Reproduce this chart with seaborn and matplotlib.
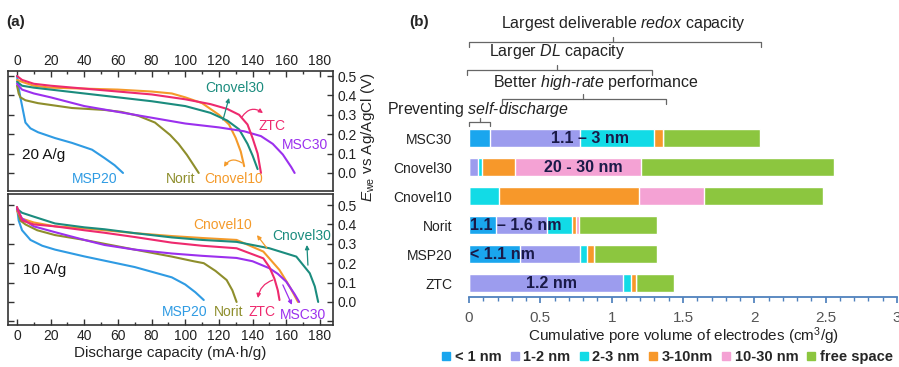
import pandas as pd
import seaborn as sns
import matplotlib.pyplot as plt
from matplotlib.ticker import MultipleLocator, FixedLocator, FuncFormatter
from matplotlib.lines import Line2D

sns.set_theme(style="white")
plt.rcParams['font.family'] = ['Liberation Sans', 'DejaVu Sans']
plt.rcParams['mathtext.fontset'] = 'custom'
plt.rcParams['mathtext.rm'] = 'Liberation Sans'
plt.rcParams['mathtext.it'] = 'Liberation Sans:italic'
plt.rcParams['mathtext.bf'] = 'Liberation Sans:bold'

# ---- (a) discharge curves: (capacity mA h/g, E V)
# 20 A/g
msp20_20 = [(0, 0.50), (1, 0.44), (2, 0.39), (5, 0.26), (8, 0.23), (12.5, 0.21), (22.6, 0.18),
            (32.7, 0.155), (44.6, 0.12), (52, 0.077), (58, 0.04), (63, 0.0)]
norit_20 = [(0, 0.45), (1, 0.41), (2, 0.39), (5, 0.375), (12.5, 0.36), (32.7, 0.335), (52, 0.325),
            (62, 0.315), (72, 0.295), (82, 0.26), (91, 0.196), (96, 0.15), (101, 0.093),
            (105, 0.04), (108, 0.0)]
cnovel10_20 = [(0, 0.48), (3, 0.47), (10, 0.45), (20, 0.44), (40, 0.435), (60, 0.43), (80, 0.42),
               (92, 0.41), (100, 0.39), (110, 0.36), (120, 0.30), (126, 0.25), (130, 0.18),
               (133, 0.11), (135, 0.035)]
cnovel30_20 = [(0, 0.47), (3, 0.45), (10, 0.44), (20, 0.43), (40, 0.41), (60, 0.39), (80, 0.37),
               (100, 0.345), (115, 0.31), (125, 0.27), (132, 0.225), (137, 0.15), (140, 0.09),
               (143, 0.02)]
ztc_20 = [(0, 0.50), (3, 0.48), (10, 0.46), (20, 0.45), (40, 0.435), (60, 0.42), (80, 0.405),
          (100, 0.38), (115, 0.355), (125, 0.33), (132, 0.30), (137, 0.25), (140, 0.18),
          (143, 0.10), (145, 0.0)]
msc30_20 = [(0, 0.46), (3, 0.43), (10, 0.41), (20, 0.39), (40, 0.345), (60, 0.315), (80, 0.285),
            (100, 0.255), (120, 0.235), (135, 0.215), (145, 0.19), (152, 0.15), (158, 0.095),
            (163, 0.03), (165, 0.0)]
# 10 A/g
msp20_10 = [(0, 0.49), (1, 0.42), (3, 0.37), (8, 0.32), (15, 0.29), (22.6, 0.27), (40, 0.235),
            (52, 0.213), (70, 0.18), (92, 0.127), (100, 0.09), (106, 0.05), (111, 0.01)]
norit_10 = [(0, 0.48), (2, 0.42), (5, 0.40), (12, 0.37), (22.6, 0.345), (40, 0.32), (52, 0.30),
            (70, 0.27), (92, 0.234), (105, 0.21), (111, 0.20), (118, 0.16), (124.6, 0.113),
            (128, 0.06), (130.5, 0.0)]
cnovel10_10 = [(0, 0.47), (3, 0.43), (10, 0.41), (22.6, 0.39), (40, 0.38), (52, 0.37), (70, 0.355),
               (92, 0.34), (110, 0.33), (130.5, 0.32), (146.4, 0.26), (156, 0.165), (162, 0.08),
               (167, 0.0)]
cnovel30_10 = [(0, 0.48), (3, 0.46), (10, 0.44), (22.6, 0.405), (40, 0.385), (52, 0.375),
               (70, 0.355), (92, 0.333), (110, 0.32), (130.5, 0.31), (150, 0.277), (166, 0.234),
               (174, 0.148), (177, 0.08), (179, 0.0)]
ztc_10 = [(0, 0.49), (3, 0.42), (10, 0.40), (22.6, 0.39), (40, 0.37), (52, 0.357), (70, 0.335),
          (92, 0.306), (110, 0.29), (130.5, 0.277), (146.4, 0.225), (150, 0.18), (153, 0.12),
          (155, 0.06), (156, 0.01)]
msc30_10 = [(0, 0.48), (3, 0.43), (10, 0.39), (22.6, 0.36), (40, 0.32), (52, 0.294), (70, 0.27),
            (92, 0.25), (110, 0.238), (130.5, 0.227), (140, 0.21), (150, 0.174), (155, 0.145),
            (160, 0.105), (165, 0.04), (167.7, 0.0)]

line_colors = {"MSP20": "#2f9be3", "Norit": "#8e8e2c", "Cnovel10": "#f49a2a",
               "Cnovel30": "#1b8c7e", "ZTC": "#ee2a6e", "MSC30": "#9b30ee"}

# ---- (b) pore volume (cm3/g) per pore-size range
categories = ["MSC30", "Cnovel30", "Cnovel10", "Norit", "MSP20", "ZTC"]
pore_lt1 = [0.15, 0.0, 0.0, 0.19, 0.36, 0.0]
pore_1_2 = [0.63, 0.065, 0.0, 0.355, 0.415, 1.08]
pore_2_3 = [0.52, 0.028, 0.21, 0.175, 0.055, 0.055]
pore_3_10 = [0.06, 0.23, 0.98, 0.03, 0.045, 0.035]
pore_10_30 = [0.0, 0.88, 0.455, 0.02, 0.0, 0.0]
free_space = [0.68, 1.355, 0.835, 0.55, 0.445, 0.27]

seg_names = ["< 1 nm", "1-2 nm", "2-3 nm", "3-10nm", "10-30 nm", "free space"]
seg_colors = ["#1aa6ee", "#9c9cee", "#12dbe6", "#f7982a", "#f4a2d4", "#8cc63f"]


def to_frame(curves):
    rows = []
    for name, pts in curves.items():
        for c, v in pts:
            rows.append((name, c, v))
    return pd.DataFrame(rows, columns=["sample", "cap", "V"])


df20 = to_frame({"MSP20": msp20_20, "Norit": norit_20, "Cnovel10": cnovel10_20,
                 "Cnovel30": cnovel30_20, "MSC30": msc30_20, "ZTC": ztc_20})
df10 = to_frame({"MSP20": msp20_10, "Norit": norit_10, "Cnovel10": cnovel10_10,
                 "Cnovel30": cnovel30_10, "MSC30": msc30_10, "ZTC": ztc_10})

fig = plt.figure(figsize=(8.99, 3.67), dpi=100)
ax1 = fig.add_axes([0.0089, 0.4796, 0.3615, 0.327])
ax2 = fig.add_axes([0.0089, 0.1144, 0.3615, 0.357])
axb = fig.add_axes([0.5217, 0.1907, 0.4761, 0.768])

fs = 10
for ax, df in [(ax1, df20), (ax2, df10)]:
    sns.lineplot(data=df, x="cap", y="V", hue="sample", palette=line_colors, sort=False,
                 estimator=None, legend=False, ax=ax, linewidth=1.5)
    ax.set_xlim(-5.35, 187.8)
    ax.set_xlabel("")
    ax.set_ylabel("")
    ax.xaxis.set_major_locator(MultipleLocator(20))
    ax.xaxis.set_minor_locator(MultipleLocator(10))
    ax.yaxis.tick_right()
    ax.tick_params(axis="both", which="both", direction="in", colors="#333333",
                   labelcolor="#222222", labelsize=fs, width=1)
    ax.tick_params(axis="both", which="major", length=4)
    ax.tick_params(axis="both", which="minor", length=2.5)
    ax.tick_params(axis="y", left=True, right=True, labelleft=False, labelright=True, pad=3)
    ax.yaxis.set_major_formatter(FuncFormatter(lambda v, p: f"{v:.1f}" if v > -0.05 else ""))
    for s in ax.spines.values():
        s.set_color("#333333")
        s.set_linewidth(1.2)

ax1.set_ylim(-0.093, 0.526)
ax1.yaxis.set_major_locator(FixedLocator([0, 0.1, 0.2, 0.3, 0.4, 0.5]))
ax1.xaxis.tick_top()
ax1.tick_params(axis="x", which="both", top=True, bottom=False, labeltop=True,
                labelbottom=False, pad=2)

ax2.set_ylim(-0.119, 0.557)
ax2.yaxis.set_major_locator(FixedLocator([-0.1, 0, 0.1, 0.2, 0.3, 0.4, 0.5]))
ax2.tick_params(axis="x", which="both", top=False, bottom=True, labelbottom=True, pad=3)
ax2.set_xlabel("Discharge capacity (mA\u00b7h/g)", fontsize=fs + 1, labelpad=2, color="#222222")

# labels and arrows, top panel (20 A/g)
ax1.text(3, 0.093, "20 A/g", fontsize=fs + 1, va="center", color="#111111")
ax1.text(46.3, -0.03, "MSP20", color=line_colors["MSP20"], fontsize=fs, ha="center", va="center")
ax1.text(97, -0.03, "Norit", color=line_colors["Norit"], fontsize=fs, ha="center", va="center")
ax1.text(129, -0.03, "Cnovel10", color=line_colors["Cnovel10"], fontsize=fs, ha="center", va="center")
ax1.text(129.5, 0.44, "Cnovel30", color=line_colors["Cnovel30"], fontsize=fs, ha="center", va="center")
ax1.text(151.5, 0.242, "ZTC", color=line_colors["ZTC"], fontsize=fs, ha="center", va="center")
ax1.text(171, 0.144, "MSC30", color=line_colors["MSC30"], fontsize=fs, ha="center", va="center")
arr = dict(arrowstyle="-|>", lw=0.9, mutation_scale=6, shrinkA=0, shrinkB=0)
ax1.annotate("", xy=(126, 0.387), xytext=(122.4, 0.273),
             arrowprops=dict(arr, color=line_colors["Cnovel30"]))
ax1.annotate("", xy=(146.2, 0.309), xytext=(133.7, 0.289),
             arrowprops=dict(arr, color=line_colors["ZTC"], connectionstyle="arc3,rad=-0.5"))
ax1.annotate("", xy=(123, 0.031), xytext=(133.7, 0.052),
             arrowprops=dict(arr, color=line_colors["Cnovel10"], connectionstyle="arc3,rad=0.5"))

# labels and arrows, bottom panel (10 A/g)
ax2.text(3.6, 0.165, "10 A/g", fontsize=fs + 1, va="center", color="#111111")
ax2.text(99.8, -0.052, "MSP20", color=line_colors["MSP20"], fontsize=fs, ha="center", va="center")
ax2.text(126, -0.052, "Norit", color=line_colors["Norit"], fontsize=fs, ha="center", va="center")
ax2.text(145.6, -0.052, "ZTC", color=line_colors["ZTC"], fontsize=fs, ha="center", va="center")
ax2.text(170, -0.067, "MSC30", color=line_colors["MSC30"], fontsize=fs, ha="center", va="center")
ax2.text(122.4, 0.397, "Cnovel10", color=line_colors["Cnovel10"], fontsize=fs, ha="center", va="center")
ax2.text(169.3, 0.34, "Cnovel30", color=line_colors["Cnovel30"], fontsize=fs, ha="center", va="center")
ax2.annotate("", xy=(142.6, 0.345), xytext=(148.5, 0.278),
             arrowprops=dict(arr, color=line_colors["Cnovel10"]))
ax2.annotate("", xy=(172.3, 0.294), xytext=(172.9, 0.19),
             arrowprops=dict(arr, color=line_colors["Cnovel30"]))
ax2.annotate("", xy=(143.2, 0.02), xytext=(152, 0.113),
             arrowprops=dict(arr, color=line_colors["ZTC"], connectionstyle="arc3,rad=0.3"))
ax2.annotate("", xy=(163.4, -0.015), xytext=(158, 0.088),
             arrowprops=dict(arr, color=line_colors["MSC30"]))

fig.text(0.409, 0.627, r"$E_{\rm we}$ vs Ag/AgCl (V)", rotation=90, ha="center", va="center",
         fontsize=fs + 1, color="#222222")
fig.text(0.007, 0.94, "(a)", fontsize=fs + 1, fontweight="bold", va="center")
fig.text(0.455, 0.94, "(b)", fontsize=fs + 1, fontweight="bold", va="center")

# ---- (b) stacked bars, drawn as cumulative totals from the back
seg = pd.DataFrame(dict(zip(seg_names, [pore_lt1, pore_1_2, pore_2_3, pore_3_10,
                                        pore_10_30, free_space])), index=categories)
cum = seg.cumsum(axis=1)
for name, col in reversed(list(zip(seg_names, seg_colors))):
    sns.barplot(x=cum[name].values, y=categories, orient="y", color=col, saturation=1,
                width=0.6, errorbar=None, ax=axb)

axb.set_xlim(0, 3)
axb.set_ylim(5.483, -4.241)
axb.set_xlabel("Cumulative pore volume of electrodes (cm$^3$/g)", fontsize=fs + 1,
               color="#222222", labelpad=0)
axb.xaxis.set_major_locator(MultipleLocator(0.5))
axb.xaxis.set_minor_locator(MultipleLocator(0.1))
axb.xaxis.set_major_formatter(FuncFormatter(lambda v, p: f"{v:g}"))
axb.tick_params(axis="x", which="both", direction="out", colors="#4f81bd", labelcolor="#555555",
                labelsize=fs + 1, bottom=True, pad=6)
axb.tick_params(axis="x", which="major", length=4)
axb.tick_params(axis="x", which="minor", length=3)
axb.tick_params(axis="y", length=0, pad=12, labelsize=fs, labelcolor="#222222")
for side in ["left", "top", "right"]:
    axb.spines[side].set_visible(False)
axb.spines["bottom"].set_color("#4f81bd")
axb.spines["bottom"].set_linewidth(1.3)

inner = dict(fontsize=fs + 1.5, fontweight="bold", color="#1a1a48", va="center")
axb.text(0.85, 0, "1.1 \u2013 3 nm", ha="center", **inner)
axb.text(0.80, 1, "20 - 30 nm", ha="center", **inner)
axb.text(0.01, 3, "1.1 \u2013 1.6 nm", ha="left", **inner)
axb.text(0.01, 4, "< 1.1 nm", ha="left", **inner)
axb.text(0.58, 5, "1.2 nm", ha="center", **inner)


def bracket(ax, x0, x1, xm, y, yend, ytop):
    kw = dict(color="#666666", lw=0.9, clip_on=False)
    ax.plot([x0, x0, x1, x1], [yend, y, y, yend], **kw)
    ax.plot([xm, xm], [y, ytop], **kw)


bracket(axb, 0.0, 2.05, 1.01, -3.31, -3.14, -3.48)
bracket(axb, -0.014, 1.28, 0.617, -2.34, -2.17, -2.52)
bracket(axb, 0.23, 1.38, 0.80, -1.34, -1.17, -1.52)
bracket(axb, 0.0, 0.15, 0.075, -0.55, -0.41, -0.69)
tkw = dict(fontsize=fs + 1.5, ha="center", va="center", color="#222222")
axb.text(1.08, -3.97, r"Largest deliverable $\mathit{redox}$ capacity", **tkw)
axb.text(0.617, -2.97, r"Larger $\mathit{DL}$ capacity", **tkw)
axb.text(0.89, -1.93, r"Better $\mathit{high}$-$\mathit{rate}$ performance", **tkw)
axb.text(0.063, -0.97, r"Preventing $\mathit{self}$-$\mathit{discharge}$", **tkw)

handles = [Line2D([], [], marker="s", linestyle="none", markersize=6, color=c) for c in seg_colors]
fig.legend(handles, seg_names, loc="center", bbox_to_anchor=(0.742, 0.028), ncol=6, frameon=False,
           handlelength=0.7, handletextpad=0.25, columnspacing=0.55, borderaxespad=0,
           prop={"weight": "bold", "size": fs + 0.5})

fig.savefig("out.png", dpi=100, facecolor="white")
